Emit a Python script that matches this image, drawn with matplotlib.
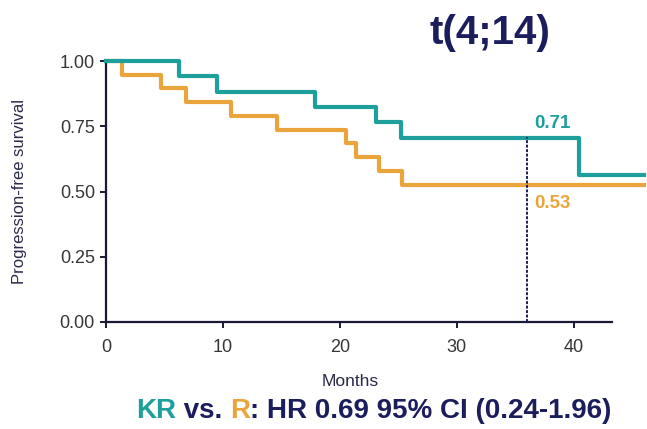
import matplotlib
matplotlib.use("Agg")
import matplotlib.pyplot as plt

plt.rcParams['font.family'] = ['Liberation Sans', 'DejaVu Sans']

# Kaplan-Meier step data (months, survival probability)
kr_times = [0, 6.2, 9.5, 17.9, 23.1, 25.2, 40.4, 46]
kr_surv = [1.0, 0.941, 0.882, 0.824, 0.765, 0.706, 0.565, 0.565]

r_times = [0, 1.4, 4.7, 6.8, 10.7, 14.6, 20.5, 21.4, 23.3, 25.3, 46]
r_surv = [1.0, 0.947, 0.895, 0.842, 0.789, 0.737, 0.684, 0.632, 0.579, 0.526, 0.526]

landmark_month = 36
kr_landmark = 0.71
r_landmark = 0.53

x_ticks = [0, 10, 20, 30, 40]
y_ticks = [0.0, 0.25, 0.5, 0.75, 1.0]
y_ticklabels = ["0.00", "0.25", "0.50", "0.75", "1.00"]

TEAL = "#1d9f9b"
ORANGE = "#eaa43c"
NAVY = "#1b1d5c"
AXIS = "#1a1a33"

W, H = 647, 429
fig = plt.figure(figsize=(W / 100, H / 100), dpi=100)
ax = fig.add_axes([106 / W, 1 - 322 / H, 538 / W, 261 / H])

ax.step(kr_times, kr_surv, where="post", color=TEAL, lw=3, clip_on=False, zorder=3)
ax.step(r_times, r_surv, where="post", color=ORANGE, lw=3, clip_on=False, zorder=2)

ax.plot([landmark_month, landmark_month], [0, kr_landmark], color=NAVY,
        lw=1.4, linestyle=(0, (1.5, 0.8)), zorder=4)

ax.text(landmark_month + 0.6, kr_landmark + 0.05, f"{kr_landmark:.2f}", color=TEAL,
        fontsize=13.5, fontweight="bold", ha="left", va="center")
ax.text(landmark_month + 0.6, r_landmark - 0.075, f"{r_landmark:.2f}", color=ORANGE,
        fontsize=13.5, fontweight="bold", ha="left", va="center")

ax.set_xlim(0, 46)
ax.set_ylim(0, 1)
ax.set_xticks(x_ticks)
ax.set_yticks(y_ticks)
ax.set_yticklabels(y_ticklabels)

for side in ("top", "right"):
    ax.spines[side].set_visible(False)
for side in ("left", "bottom"):
    ax.spines[side].set_color(AXIS)
    ax.spines[side].set_linewidth(1.6)
ax.spines["bottom"].set_bounds(0, 43.3)

ax.tick_params(axis="both", direction="out", length=4, width=1.4, color=AXIS,
               labelsize=13, labelcolor="#363636", pad=4)
ax.tick_params(axis="x", pad=8)

ax.set_xlabel("Months", fontsize=12.5, color="#2a2a4a")
ax.xaxis.set_label_coords((350 - 106) / 538, -(382 - 322) / 261)
ax.xaxis.label.set_va("center")
ax.set_ylabel("Progression-free survival", fontsize=12, color="#2a2a4a")
ax.yaxis.set_label_coords(-(106 - 20) / 538, 0.5)
ax.yaxis.label.set_va("center")

fig.text(490 / W, 1 - 33 / H, "t(4;14)", color=NAVY, fontsize=29, fontweight="bold",
         ha="center", va="center")

# Hazard ratio footer with colour-coded arm names
footer_parts = [("KR", TEAL), (" vs. ", NAVY), ("R", ORANGE), (": HR 0.69 95% CI (0.24-1.96)", NAVY)]
renderer = fig.canvas.get_renderer()
x_px = 136
y_fig = 1 - 411 / H
for txt, col in footer_parts:
    t = fig.text(x_px / W, y_fig, txt, color=col, fontsize=20, fontweight="bold",
                 ha="left", va="center")
    bb = t.get_window_extent(renderer=renderer)
    x_px += bb.width

fig.savefig("out.png", dpi=100)
